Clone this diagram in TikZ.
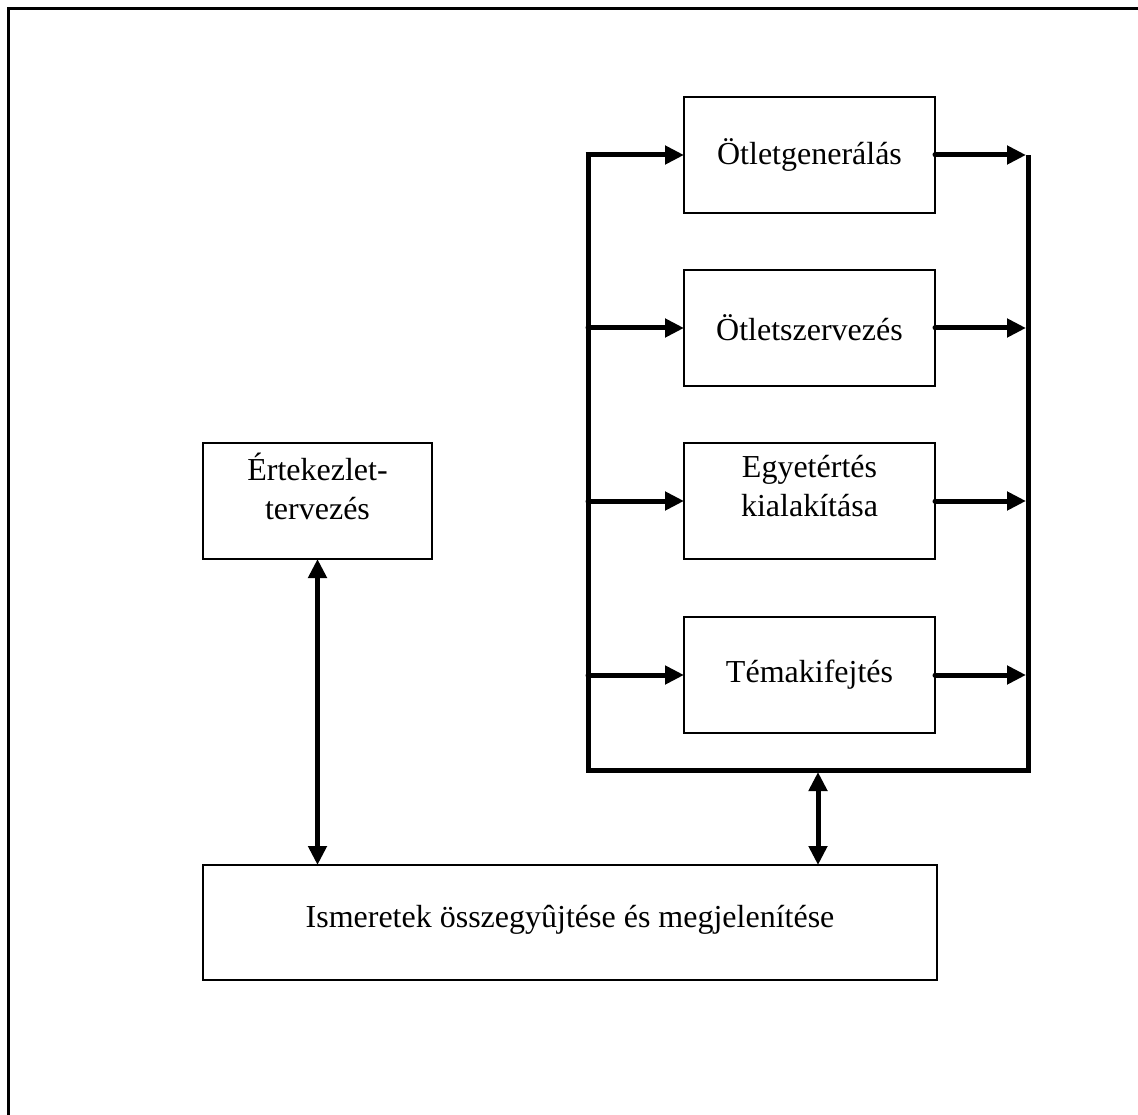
\documentclass[tikz,border=0pt]{standalone}
\usepackage{fontspec}
\setmainfont{Liberation Serif}
\usetikzlibrary{arrows.meta}
\tikzset{
  box/.style={draw, line width=2.3pt, minimum width=#1, inner sep=0pt, outer sep=0pt},
  box/.default=251pt,
  lbl/.style={inner sep=0pt, align=center, font=\fontsize{32}{39}\selectfont},
  thick line/.style={line width=5pt},
  tipa/.tip={Triangle[length=19pt,width=18pt]},
  arr/.style={line width=5pt, line cap=round, -tipa},
  darr/.style={line width=5pt, tipa-tipa}
}
\begin{document}
\begin{tikzpicture}[x=1pt,y=-1pt]
\useasboundingbox (0,0) rectangle (1138,1115);
% outer frame (top and left only)
\draw[line width=3pt] (8,1115) -- (8,9) -- (1138,9);
% boxes
\node[box, minimum height=116pt] (b1) at (809.5,155) {};
\node[box, minimum height=116pt] (b2) at (809.5,328) {};
\node[box, minimum height=116pt] (b3) at (809.5,501) {};
\node[box, minimum height=116pt] (b4) at (809.5,675) {};
\node[box=229pt, minimum height=116pt] (b5) at (317.5,501) {};
\node[box=734pt, minimum height=115pt] (b6) at (570,922.5) {};
% labels
\node[lbl] (t1) at (b1.center) {Ötletgenerálás};
\node[lbl] (t2) at (b2.center) {Ötletszervezés};
\node[lbl] (t3) at ([yshift=15pt]b3.center) {Egyetértés\\kialakítása};
\node[lbl] (t4) at (b4.center) {Témakifejtés};
\node[lbl] (t5) at ([yshift=15pt]b5.center) {Értekezlet-\\tervezés};
\node[lbl] (t6) at ([yshift=3pt]b6.center) {Ismeretek összegyûjtése és megjelenítése};
% bracket coordinates
\coordinate (l1) at (588,155);
\coordinate (l2) at (588,328);
\coordinate (l3) at (588,501);
\coordinate (l4) at (588,675);
\coordinate (lb) at (588,770);
\coordinate (rb) at (1028,770);
\coordinate (rt) at (1028,155);
\coordinate (r1) at (1026,155);
\coordinate (r2) at (1026,328);
\coordinate (r3) at (1026,501);
\coordinate (r4) at (1026,675);
\coordinate (m) at (818,772);
% bracket
\draw[thick line, line join=miter] (l1) -- (lb) -- (rb) -- (rt);
% input arrows
\draw[arr, line cap=butt] ([xshift=-2.5pt]l1) -- (b1.west);
\draw[arr] (l2) -- (b2.west);
\draw[arr] (l3) -- (b3.west);
\draw[arr] (l4) -- (b4.west);
% output arrows
\draw[arr] (b1.east) -- (r1);
\draw[arr] (b2.east) -- (r2);
\draw[arr] (b3.east) -- (r3);
\draw[arr] (b4.east) -- (r4);
% double arrows
\draw[darr] (b5.south) -- (b5.south |- b6.north);
\draw[darr] (m) -- (m |- b6.north);
\end{tikzpicture}
\end{document}
